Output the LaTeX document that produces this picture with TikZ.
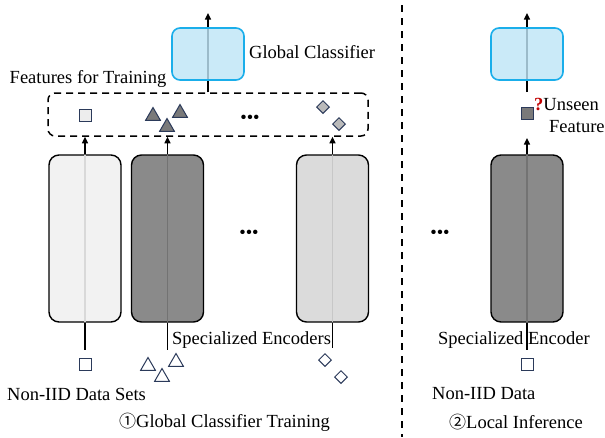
\documentclass[tikz,border=0pt]{standalone}
\usepackage{fontspec}
\setmainfont{Liberation Serif}
\newfontfamily\symfont{Noto Sans CJK SC}
\usetikzlibrary{arrows.meta,shapes.geometric}
\definecolor{clsfill}{HTML}{BEE5F7}
\definecolor{clsdraw}{HTML}{1AAEEA}
\definecolor{mk}{HTML}{2B3A5A}
\definecolor{qred}{HTML}{C00000}
\tikzset{
  every node/.style={font=\fontsize{18.5}{22}\selectfont},
  cls/.style={draw=clsdraw,line width=1.6pt,fill=clsfill,fill opacity=0.82,text opacity=1,rounded corners=8pt,minimum width=72pt,minimum height=52pt,inner sep=0pt},
  enc/.style={draw=black,line width=1.4pt,rounded corners=10pt,minimum width=72pt,minimum height=167pt,inner sep=0pt},
  conn/.style={line width=1.4pt},
  mid/.style={line width=1.2pt,shorten <=0.7pt,shorten >=0.7pt},
  arr/.style={line width=1.4pt,-{Triangle[length=6.5pt,width=6pt]}},
  sq/.style={draw=mk,line width=1pt,minimum size=12pt,inner sep=0pt},
  tri/.style={regular polygon,regular polygon sides=3,draw=mk,line width=1pt,minimum size=17pt,inner sep=0pt},
  dia/.style={diamond,draw=mk,line width=1pt,minimum size=13pt,inner sep=0pt},
  lbl/.style={inner sep=0pt},
  dotsn/.style={inner sep=0pt,font=\fontsize{18.5}{22}\selectfont},
}
\newcommand{\circn}[1]{{\symfont\fontsize{17}{20}\selectfont #1}}
\begin{document}
\begin{tikzpicture}[x=1pt,y=-1pt]
\useasboundingbox (0,0) rectangle (605,437);
% separator
\coordinate (sepT) at (402,5);
\coordinate (sepB) at (402,437);
\draw[line width=1.4pt,dash pattern=on 7pt off 6pt] (sepT) -- (sepB);

% feature box
\node[draw,line width=1.5pt,dash pattern=on 7pt off 5pt,rounded corners=7pt,minimum width=320pt,minimum height=43pt,inner sep=0pt] (feat) at (208,114.5) {};

% classifier left
\coordinate (top1) at (208,13);
\draw[arr] (feat.north) -- (top1);
\node[cls] (gc) at (208,54) {};
\node[lbl,anchor=west] (gclbl) at (249,52) {Global Classifier};
\node[lbl] (ftlbl) at (88,79) {Features for Training};

% encoders left
\node[enc,fill=black!5] (enc1) at (85,238.5) {};
\node[enc,fill=black!46] (enc2) at (167.5,238.5) {};
\node[enc,fill=black!14] (enc3) at (332.5,238.5) {};
\draw[mid,black!15] (enc1.north) -- (enc1.south);
\draw[mid,black!55] (enc2.north) -- (enc2.south);
\draw[mid,black!22] (enc3.north) -- (enc3.south);

\draw[arr] (enc1.north) -- (enc1.north |- feat.south);
\draw[arr] (enc2.north) -- (enc2.north |- feat.south);
\draw[arr] (enc3.north) -- (enc3.north |- feat.south);

% feature markers
\node[sq,fill=black!7] (fsq) at (85,115) {};
\node[tri,fill=black!52] (ft1) at (153,116) {};
\node[tri,fill=black!52] (ft2) at (180,113) {};
\node[tri,fill=black!52] (ft3) at (167,127) {};
\node[dotsn] (fdots) at (250,119) {•••};
\node[dia,fill=black!27] (fd1) at (323,107) {};
\node[dia,fill=black!27] (fd2) at (339,124) {};

\node[dotsn] (edots) at (249,234) {•••};

% lines below encoders
\coordinate (b1) at (85,350);
\coordinate (b2) at (167.5,350);
\coordinate (b3) at (332.5,348);
\draw[conn] (enc1.south) -- (b1);
\draw[conn] (enc2.south) -- (b2);
\draw[conn] (enc3.south) -- (b3);

% data markers
\node[sq,fill=white] (dsq) at (85,364) {};
\node[tri,fill=white] (dt1) at (148,366) {};
\node[tri,fill=white] (dt2) at (176,362) {};
\node[tri,fill=white] (dt3) at (162,377) {};
\node[dia,fill=white] (dd1) at (325,360) {};
\node[dia,fill=white] (dd2) at (341,377) {};

\node[lbl,anchor=west] (selbl) at (172,340) {Specialized Encoders};
\node[lbl,anchor=west] (nidlbl) at (7,394) {Non-IID Data Sets};
\node[lbl,anchor=west] (t1lbl) at (119,422) {\circn{①}Global Classifier Training};

% right side
\node[dotsn] (rdots) at (440,234) {•••};
\node[enc,fill=black!46] (enc4) at (527,238.5) {};
\draw[mid,black!55] (enc4.north) -- (enc4.south);
\coordinate (top2) at (527,13);
\coordinate (r92) at (527,92);
\draw[arr] (r92) -- (top2);
\node[cls] (gc2) at (527,54) {};
\node[sq,fill=black!52] (usq) at (527,113) {};
\draw[arr] (enc4.north) -- (usq.south |- 0,138);
\node[lbl,anchor=west] (ulbl) at (534,105) {{\bfseries\color{qred}?}Unseen};
\node[lbl,anchor=west] (flbl) at (549,127) {Feature};
\coordinate (b4) at (527,350);
\draw[conn] (enc4.south) -- (b4);
\node[sq,fill=white] (rsq) at (527,364) {};
\node[lbl,anchor=west] (selbl2) at (438,340) {Specialized Encoder};
\node[lbl,anchor=west] (nidlbl2) at (432,394) {Non-IID Data};
\node[lbl,anchor=west] (t2lbl) at (449,422) {\circn{②}Local Inference};
\end{tikzpicture}
\end{document}
